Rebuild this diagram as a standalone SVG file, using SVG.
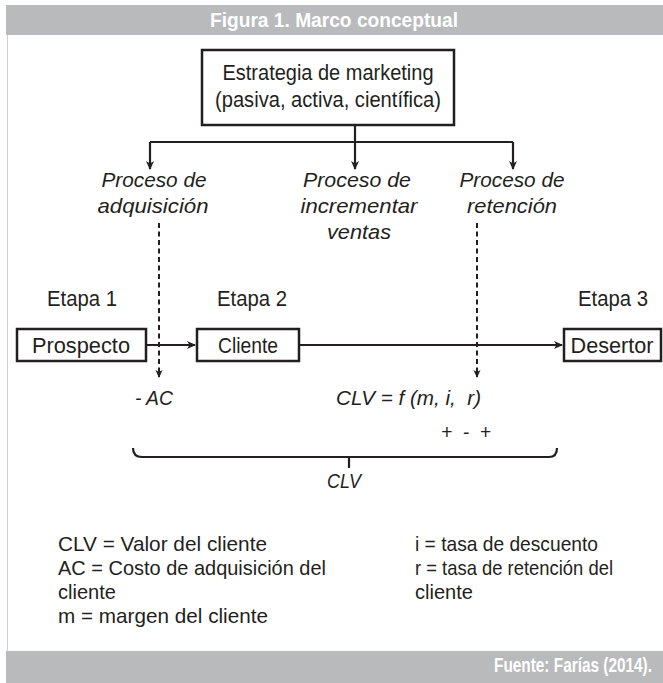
<svg xmlns="http://www.w3.org/2000/svg" width="663" height="683" viewBox="0 0 663 683">
<style>
text{font-family:"Liberation Sans","DejaVu Sans",sans-serif;fill:#231f20;font-size:22px}
.it{font-style:italic;font-size:21px}
.lg{font-size:21px}
.hd{fill:#fff;font-weight:bold;font-size:21px}
.box{fill:#fff;stroke:#231f20;stroke-width:2.5}
.ln{fill:none;stroke:#231f20;stroke-width:2.2}
.dash{fill:none;stroke:#231f20;stroke-width:2;stroke-dasharray:5,3.5}
.bar{fill:#b9babc}
</style>
<defs>
<marker id="ah" markerWidth="10" markerHeight="10" refX="8" refY="5" orient="auto" markerUnits="userSpaceOnUse">
<path d="M0,1 L9,5 L0,9 L2.5,5 z" fill="#231f20"/>
</marker>
<marker id="ahs" markerWidth="10" markerHeight="10" refX="7" refY="5" orient="auto" markerUnits="userSpaceOnUse">
<path d="M0,1.5 L8,5 L0,8.5 L2,5 z" fill="#231f20"/>
</marker>
</defs>
<rect x="0" y="0" width="663" height="683" fill="#fff"/>
<line x1="7.5" y1="35" x2="7.5" y2="651" stroke="#d0d0d0" stroke-width="1"/>
<g id="header">
<rect class="bar" x="6" y="5" width="657" height="30"/>
<text class="hd" x="334" y="27" text-anchor="middle" textLength="248" lengthAdjust="spacingAndGlyphs">Figura 1. Marco conceptual</text>
</g>
<g id="footer">
<rect class="bar" x="6" y="651" width="657" height="32"/>
<text class="hd" x="652" y="672" text-anchor="end" textLength="158" lengthAdjust="spacingAndGlyphs">Fuente: Farías (2014).</text>
</g>
<g id="connectors">
<path class="ln" d="M355,125 V142"/>
<path class="ln" d="M150,142 H513"/>
<path class="ln" d="M150,142 V169" marker-end="url(#ah)"/>
<path class="ln" d="M355,142 V169" marker-end="url(#ah)"/>
<path class="ln" d="M513,142 V169" marker-end="url(#ah)"/>
<path class="dash" d="M159,223 V377" marker-end="url(#ahs)"/>
<path class="dash" d="M477,223 V377" marker-end="url(#ahs)"/>
<path class="ln" d="M146,345 H195" marker-end="url(#ah)"/>
<path class="ln" d="M299,345 H562" marker-end="url(#ah)"/>
<path class="ln" d="M133,448 Q133,457 142,457 H549 Q557,457 557,448"/>
<path class="ln" d="M349,457 V468"/>
</g>
<g id="estrategia">
<rect class="box" x="202" y="50" width="252" height="75"/>
<text x="328" y="80" text-anchor="middle" textLength="211" lengthAdjust="spacingAndGlyphs">Estrategia de marketing</text>
<text x="328" y="107" text-anchor="middle" textLength="226" lengthAdjust="spacingAndGlyphs">(pasiva, activa, científica)</text>
</g>
<g id="proc-adquisicion">
<text class="it" x="154" y="187" text-anchor="middle" textLength="105" lengthAdjust="spacingAndGlyphs">Proceso de</text>
<text class="it" x="153" y="213" text-anchor="middle" textLength="111" lengthAdjust="spacingAndGlyphs">adquisición</text>
</g>
<g id="proc-incrementar">
<text class="it" x="357" y="187" text-anchor="middle" textLength="108" lengthAdjust="spacingAndGlyphs">Proceso de</text>
<text class="it" x="359" y="213" text-anchor="middle" textLength="117" lengthAdjust="spacingAndGlyphs">incrementar</text>
<text class="it" x="359" y="239" text-anchor="middle" textLength="64" lengthAdjust="spacingAndGlyphs">ventas</text>
</g>
<g id="proc-retencion">
<text class="it" x="512" y="187" text-anchor="middle" textLength="105" lengthAdjust="spacingAndGlyphs">Proceso de</text>
<text class="it" x="512" y="213" text-anchor="middle" textLength="90" lengthAdjust="spacingAndGlyphs">retención</text>
</g>
<g id="prospecto">
<text x="47" y="306" textLength="70" lengthAdjust="spacingAndGlyphs">Etapa 1</text>
<rect class="box" x="17" y="329" width="129" height="32"/>
<text x="81" y="353" text-anchor="middle" textLength="98" lengthAdjust="spacingAndGlyphs">Prospecto</text>
</g>
<g id="cliente">
<text x="217" y="306" textLength="70" lengthAdjust="spacingAndGlyphs">Etapa 2</text>
<rect class="box" x="197" y="329" width="102" height="32"/>
<text x="248" y="353" text-anchor="middle" textLength="60" lengthAdjust="spacingAndGlyphs">Cliente</text>
</g>
<g id="desertor">
<text x="578" y="306" textLength="70" lengthAdjust="spacingAndGlyphs">Etapa 3</text>
<rect class="box" x="564" y="329" width="97" height="32"/>
<text x="612" y="353" text-anchor="middle" textLength="83" lengthAdjust="spacingAndGlyphs">Desertor</text>
</g>
<g id="formulas">
<text class="it" x="135" y="405" textLength="38" lengthAdjust="spacingAndGlyphs">- AC</text>
<text class="it" x="336" y="405" textLength="145" lengthAdjust="spacingAndGlyphs" xml:space="preserve">CLV = f (m, i,  r)</text>
<text class="it" x="441" y="439" textLength="50" lengthAdjust="spacingAndGlyphs" xml:space="preserve">+  -  +</text>
<text class="it" x="344" y="488" text-anchor="middle" textLength="34" lengthAdjust="spacingAndGlyphs">CLV</text>
</g>
<g id="leyenda">
<text class="lg" x="58" y="551" textLength="209" lengthAdjust="spacingAndGlyphs">CLV = Valor del cliente</text>
<text class="lg" x="58" y="575" textLength="268" lengthAdjust="spacingAndGlyphs">AC = Costo de adquisición del</text>
<text class="lg" x="58" y="599" textLength="58" lengthAdjust="spacingAndGlyphs">cliente</text>
<text class="lg" x="58" y="623" textLength="210" lengthAdjust="spacingAndGlyphs">m = margen del cliente</text>
<text class="lg" x="415" y="551" textLength="183" lengthAdjust="spacingAndGlyphs">i = tasa de descuento</text>
<text class="lg" x="415" y="575" textLength="198" lengthAdjust="spacingAndGlyphs">r = tasa de retención del</text>
<text class="lg" x="415" y="599" textLength="58" lengthAdjust="spacingAndGlyphs">cliente</text>
</g>
</svg>
